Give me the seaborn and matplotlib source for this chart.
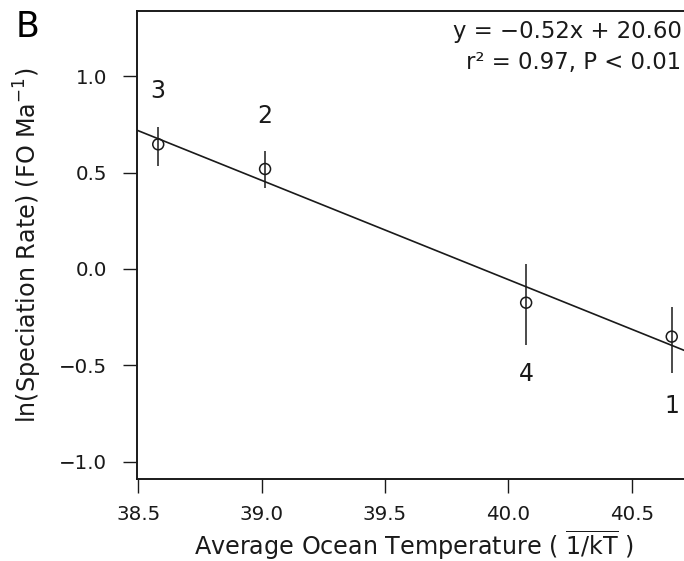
import numpy as np
import pandas as pd
import matplotlib
matplotlib.use("Agg")
import matplotlib.pyplot as plt
import seaborn as sns

# ---- data ----
interval = ["3", "2", "4", "1"]
temperature = [38.581, 39.014, 40.072, 40.662]
ln_rate = [0.647, 0.519, -0.175, -0.351]
err_low = [0.111, 0.097, 0.219, 0.187]
err_high = [0.091, 0.093, 0.199, 0.155]
x_ticks = [38.5, 39.0, 39.5, 40.0, 40.5]
y_ticks = [-1.0, -0.5, 0.0, 0.5, 1.0]
eq_text = "y = \u22120.52x + 20.60"
stat_text = "r\u00b2 = 0.97, P < 0.01"
panel = "B"

# label placement (style, offset in points from each point)
label_offsets = [33.2, 33.2, -56.2, -54.7]

df = pd.DataFrame({"temp": temperature, "rate": ln_rate, "label": interval})

sns.set_style("ticks")
plt.rcParams["font.family"] = ["DejaVu Sans"]
plt.rcParams["mathtext.fontset"] = "dejavusans"
plt.rcParams["axes.unicode_minus"] = True

W, H = 684, 561
fig = plt.figure(figsize=(W / 100, H / 100), dpi=100)
left_px, right_px, top_px, bot_px = 137, 690, 11, 479
ax = fig.add_axes([left_px / W, 1 - bot_px / H, (right_px - left_px) / W, (bot_px - top_px) / H])

ax.set_xlim(38.495, 40.736)
ax.set_ylim(-1.09, 1.339)

col = "#1a1a1a"
ax.errorbar(df["temp"], df["rate"], yerr=[err_low, err_high], fmt="none",
            ecolor=col, elinewidth=1.1, capsize=0, zorder=2)
sns.scatterplot(data=df, x="temp", y="rate", ax=ax, marker="o", s=62,
                facecolors="none", edgecolor=col, linewidth=1.1, zorder=3)
sns.regplot(data=df, x="temp", y="rate", ax=ax, scatter=False, ci=None,
            truncate=False, line_kws={"color": col, "linewidth": 1.2, "zorder": 2})

for xv, yv, lab, off in zip(temperature, ln_rate, interval, label_offsets):
    ax.annotate(lab, (xv, yv), xytext=(0, off), textcoords="offset points",
                ha="center", va="baseline", fontsize=17, color=col)

ax.set_xticks(x_ticks)
ax.set_xticklabels([f"{v:.1f}" for v in x_ticks])
ax.set_yticks(y_ticks)
ax.set_yticklabels([f"{v:.1f}".replace("-", "\u2212") for v in y_ticks])
ax.tick_params(length=10, width=1.0, labelsize=14.3, colors=col)
ax.tick_params(axis="y", pad=11.5)
ax.tick_params(axis="x", pad=9)

for s in ax.spines.values():
    s.set_linewidth(1.4)
    s.set_color(col)

ax.set_xlabel(r"Average Ocean Temperature ( $\overline{1/\mathrm{kT}}$ )", fontsize=17.2, color=col, labelpad=3)
ax.set_ylabel(r"ln(Speciation Rate) (FO Ma$^{-1}$)", fontsize=17.2, color=col, labelpad=10.5)

fig.text(681.5 / W, 1 - 38.3 / H, eq_text, ha="right", va="baseline", fontsize=16.4, color=col)
fig.text(681.5 / W, 1 - 69.3 / H, stat_text, ha="right", va="baseline", fontsize=16.4, color=col)
fig.text(15.5 / W, 1 - 36.7 / H, panel, ha="left", va="baseline", fontsize=25, color="black")

fig.savefig("out.png", dpi=100)
